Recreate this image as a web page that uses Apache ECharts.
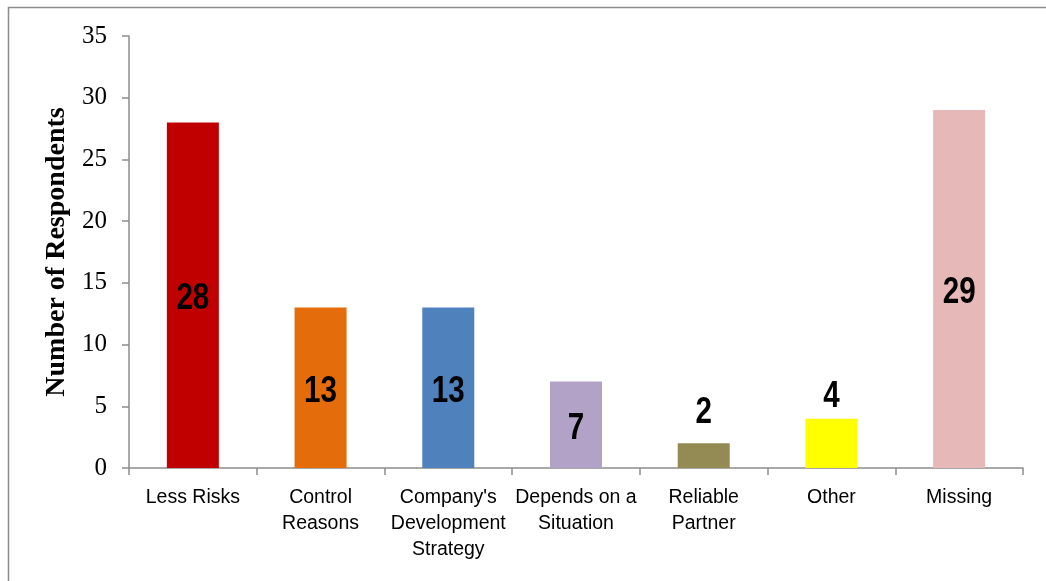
<!DOCTYPE html>
<html>
<head>
<meta charset="utf-8">
<script src="https://cdn.jsdelivr.net/npm/echarts@6/dist/echarts.min.js"></script>
<style>
  html, body { margin: 0; padding: 0; background: #fff; }
  #chart { width: 1046px; height: 581px; }
</style>
</head>
<body>
<div id="chart"></div>
<script>
// Reasons given by respondents, with counts per reason
const categories = [
  'Less Risks',
  'Control\nReasons',
  "Company's\nDevelopment\nStrategy",
  'Depends on a\nSituation',
  'Reliable\nPartner',
  'Other',
  'Missing'
];
const counts = [28, 13, 13, 7, 2, 4, 29];
const barColors = ['#C00000', '#E46C0A', '#4F81BD', '#B3A2C7', '#948A54', '#FFFF00', '#E6B9B8'];
const yTicks = { min: 0, max: 35, interval: 5 };

const serif = "'Liberation Serif', 'Times New Roman', serif";
const sans = "'Liberation Sans', Arial, sans-serif";

// Value labels: condensed bold digits, centred in tall bars, lifted above short ones
function renderValueLabel(params, api) {
  const idx = api.value(0);
  const v = api.value(1);
  const top = api.coord([idx, v]);
  const base = api.coord([idx, 0]);
  const barHeight = base[1] - top[1];
  let y;
  if (barHeight > 60) {
    y = (top[1] + base[1]) / 2 + 4;
  } else {
    y = top[1] - (v < 3 ? 31 : 22);
  }
  return {
    type: 'text',
    x: top[0],
    y: y,
    scaleX: 0.8,
    style: {
      text: String(v),
      font: 'bold 37px ' + sans,
      fill: '#000',
      align: 'center',
      verticalAlign: 'middle'
    },
    z2: 10
  };
}

const chart = echarts.init(document.getElementById('chart'), null, { renderer: 'canvas' });
chart.setOption({
  animation: false,
  backgroundColor: '#fff',
  graphic: [{
    type: 'rect',
    shape: { x: 8.5, y: 7.5, width: 1200, height: 800 },
    style: { fill: 'none', stroke: '#8c8c8c', lineWidth: 1.5 },
    silent: true,
    z: 100
  }],
  grid: { left: 129, right: 23, top: 36, bottom: 113, containLabel: false },
  xAxis: {
    type: 'category',
    data: categories,
    axisLine: { lineStyle: { color: '#8c8c8c', width: 1.5 } },
    axisTick: { show: true, length: 7, lineStyle: { color: '#8c8c8c', width: 1.5 } },
    axisLabel: {
      interval: 0,
      margin: 17,
      fontFamily: sans,
      fontSize: 19.5,
      lineHeight: 26,
      color: '#000'
    },
    splitLine: { show: false }
  },
  yAxis: {
    type: 'value',
    min: yTicks.min,
    max: yTicks.max,
    interval: yTicks.interval,
    name: 'Number of Respondents',
    nameLocation: 'middle',
    nameGap: 56,
    nameRotate: 90,
    nameTextStyle: {
      fontFamily: serif,
      fontWeight: 'bold',
      fontSize: 28,
      color: '#000'
    },
    axisLine: { show: true, lineStyle: { color: '#8c8c8c', width: 1.5 } },
    axisTick: { show: true, length: 7, lineStyle: { color: '#8c8c8c', width: 1.5 } },
    axisLabel: {
      margin: 22,
      fontFamily: serif,
      fontSize: 25,
      color: '#000'
    },
    splitLine: { show: false }
  },
  series: [
    {
      type: 'bar',
      data: counts.map((v, i) => ({ value: v, itemStyle: { color: barColors[i] } })),
      barWidth: 52,
      label: { show: false }
    },
    {
      type: 'custom',
      data: counts.map((v, i) => [i, v]),
      renderItem: renderValueLabel,
      z: 5,
      silent: true
    }
  ]
});
</script>
</body>
</html>
